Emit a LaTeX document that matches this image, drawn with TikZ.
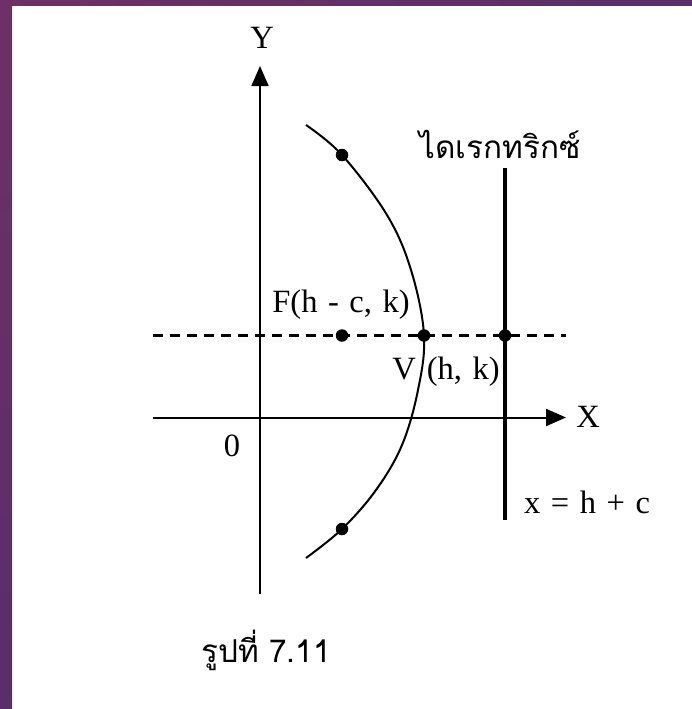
\documentclass[tikz,border=0pt]{standalone}
\usepackage{fontspec}
\setmainfont{Liberation Serif}[WordSpace=1.3]
\newfontfamily\thaifont[Script=Thai]{Loma}
\usetikzlibrary{arrows.meta}
\definecolor{purpA}{HTML}{6E3066}
\definecolor{purpB}{HTML}{5A2D6B}
\begin{document}
\begin{tikzpicture}[x=1pt,y=-1pt,
  axis/.style={line width=2pt},
  arr/.style={-{Triangle[length=20pt,width=17pt]}},
  dotpt/.style={circle,fill=black,inner sep=0pt,minimum size=12.5pt},
  lbl/.style={font=\fontsize{32.5}{36}\selectfont,inner sep=0pt},
  thai/.style={font=\thaifont\fontsize{31.5}{34}\selectfont,inner sep=0pt}]
\useasboundingbox (0,0) rectangle (692,709);
\fill[white] (0,0) rectangle (692,709);
\shade[top color=purpA,bottom color=purpB] (0,0) rectangle (12,709);
\shade[left color=purpA,right color=purpB] (0,0) rectangle (692,6);
% coordinates
\coordinate (ybot) at (260,594);
\coordinate (ytop) at (260,66);
\coordinate (xl) at (153,417.5);
\coordinate (xr) at (566,417.5);
\coordinate (dl) at (153,335.5);
\coordinate (dr) at (566,335.5);
\coordinate (dtop) at (505,168);
\coordinate (dbot) at (505,520);
% axes
\draw[axis,arr] (ybot) -- (ytop);
\draw[axis,arr] (xl) -- (xr);
\draw[line width=2.7pt,dash pattern=on 10pt off 7pt] (dl) -- (dr);
\draw[line width=3.5pt] (dtop) -- (dbot);
% parabola
\draw[line width=2pt] plot[smooth,tension=0.6] coordinates {(306,125) (342,155) (387,215) (411,270) (424,335) (418,390) (402,445) (376,490) (342,529) (306,558)};
% points
\node[dotpt] (F) at (342,335.5) {};
\node[dotpt] (V) at (424,335.5) {};
\node[dotpt] (D) at (505,335.5) {};
\node[dotpt] (P1) at (342,155) {};
\node[dotpt] (P2) at (342,529) {};
% labels
\node[lbl] (Y) at (262,38) {Y};
\node[lbl] (X) at (588,417) {X};
\node[lbl] (O) at (232,446) {0};
\node[lbl] (Fl) at (341,305) {F(h - c, k)};
\node[lbl] (Vl) at (446,372) {V\hspace{11pt}(h, k)};
\node[lbl] (eq) at (587,502) {x = h + c};
\node[thai] (dir) at (500,144) {ไดเรกทริกซ์};
\node[thai,anchor=west] (cap) at (201,650) {รูปที่ 7.11};
\end{tikzpicture}
\end{document}
